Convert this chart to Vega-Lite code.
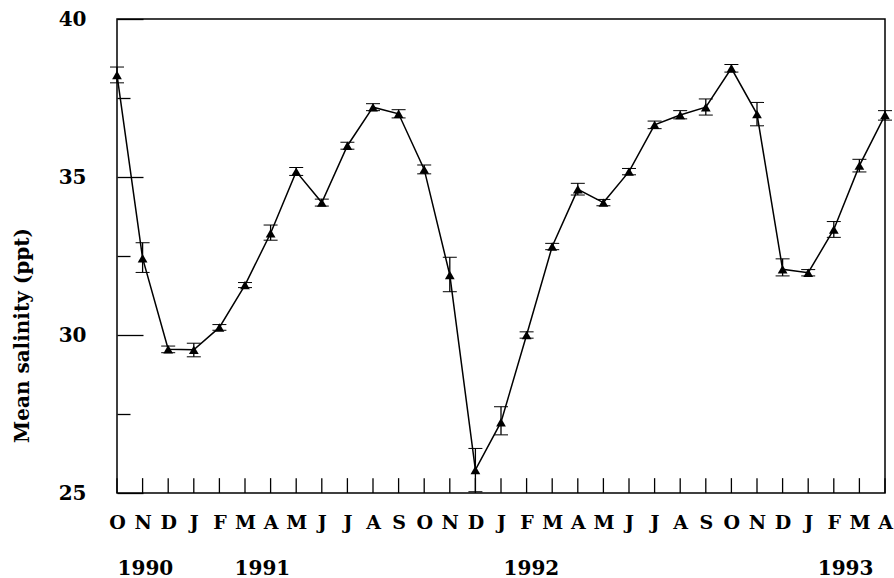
{
  "$schema": "https://vega.github.io/schema/vega-lite/v6.json",
  "width": 768,
  "height": 474,
  "autosize": {"type": "none"},
  "padding": {"left": 117, "top": 19, "right": 9, "bottom": 85},
  "background": "white",
  "config": {
    "view": {"stroke": "black", "strokeWidth": 1.5},
    "axis": {
      "labelFont": "DejaVu Serif",
      "labelFontWeight": "bold",
      "labelColor": "black",
      "titleFont": "DejaVu Serif",
      "titleFontWeight": "bold",
      "titleColor": "black",
      "tickColor": "black",
      "domain": false,
      "grid": false,
      "labelFlush": false,
      "labelOverlap": false
    }
  },
  "datasets": {
    "salinity": [
      {"i": 0, "month": "O", "year": 1990, "salinity": 38.23, "lo": 37.98, "hi": 38.48},
      {"i": 1, "month": "N", "year": 1990, "salinity": 32.43, "lo": 31.98, "hi": 32.92},
      {"i": 2, "month": "D", "year": 1990, "salinity": 29.55, "lo": 29.44, "hi": 29.65},
      {"i": 3, "month": "J", "year": 1991, "salinity": 29.53, "lo": 29.31, "hi": 29.74},
      {"i": 4, "month": "F", "year": 1991, "salinity": 30.24, "lo": 30.15, "hi": 30.33},
      {"i": 5, "month": "M", "year": 1991, "salinity": 31.58, "lo": 31.5, "hi": 31.66},
      {"i": 6, "month": "A", "year": 1991, "salinity": 33.22, "lo": 33.0, "hi": 33.48},
      {"i": 7, "month": "M", "year": 1991, "salinity": 35.17, "lo": 35.05, "hi": 35.3},
      {"i": 8, "month": "J", "year": 1991, "salinity": 34.19, "lo": 34.08, "hi": 34.3},
      {"i": 9, "month": "J", "year": 1991, "salinity": 35.99, "lo": 35.88, "hi": 36.1},
      {"i": 10, "month": "A", "year": 1991, "salinity": 37.21, "lo": 37.1, "hi": 37.32},
      {"i": 11, "month": "S", "year": 1991, "salinity": 37.0, "lo": 36.87, "hi": 37.13},
      {"i": 12, "month": "O", "year": 1991, "salinity": 35.24, "lo": 35.1, "hi": 35.38},
      {"i": 13, "month": "N", "year": 1991, "salinity": 31.9, "lo": 31.37, "hi": 32.46},
      {"i": 14, "month": "D", "year": 1991, "salinity": 25.73, "lo": 25.04, "hi": 26.41},
      {"i": 15, "month": "J", "year": 1992, "salinity": 27.24, "lo": 26.84, "hi": 27.73},
      {"i": 16, "month": "F", "year": 1992, "salinity": 30.0, "lo": 29.9, "hi": 30.1},
      {"i": 17, "month": "M", "year": 1992, "salinity": 32.8, "lo": 32.7, "hi": 32.9},
      {"i": 18, "month": "A", "year": 1992, "salinity": 34.61, "lo": 34.43, "hi": 34.8},
      {"i": 19, "month": "M", "year": 1992, "salinity": 34.19, "lo": 34.09, "hi": 34.29},
      {"i": 20, "month": "J", "year": 1992, "salinity": 35.17, "lo": 35.07, "hi": 35.27},
      {"i": 21, "month": "J", "year": 1992, "salinity": 36.65, "lo": 36.53, "hi": 36.77},
      {"i": 22, "month": "A", "year": 1992, "salinity": 36.96, "lo": 36.84, "hi": 37.1},
      {"i": 23, "month": "S", "year": 1992, "salinity": 37.21, "lo": 36.96, "hi": 37.47},
      {"i": 24, "month": "O", "year": 1992, "salinity": 38.44, "lo": 38.32, "hi": 38.56},
      {"i": 25, "month": "N", "year": 1992, "salinity": 36.99, "lo": 36.62, "hi": 37.36},
      {"i": 26, "month": "D", "year": 1992, "salinity": 32.08, "lo": 31.87, "hi": 32.41},
      {"i": 27, "month": "J", "year": 1993, "salinity": 31.97, "lo": 31.87, "hi": 32.07},
      {"i": 28, "month": "F", "year": 1993, "salinity": 33.34, "lo": 33.09, "hi": 33.59},
      {"i": 29, "month": "M", "year": 1993, "salinity": 35.36, "lo": 35.16, "hi": 35.56},
      {"i": 30, "month": "A", "year": 1993, "salinity": 36.96, "lo": 36.8, "hi": 37.1}
    ],
    "years": [
      {"year": "1990", "pos": 1.09},
      {"year": "1991", "pos": 5.66},
      {"year": "1992", "pos": 16.17},
      {"year": "1993", "pos": 28.44}
    ]
  },
  "layer": [
    {
      "data": {"name": "salinity"},
      "layer": [
        {
          "mark": {"type": "line", "color": "black", "strokeWidth": 1.5},
          "encoding": {
            "x": {
              "field": "i",
              "type": "quantitative",
              "title": null,
              "scale": {"domain": [0, 30], "nice": false, "zero": false},
              "axis": {
                "values": [0, 1, 2, 3, 4, 5, 6, 7, 8, 9, 10, 11, 12, 13, 14, 15, 16, 17, 18, 19, 20, 21, 22, 23, 24, 25, 26, 27, 28, 29, 30],
                "tickCount": 31,
                "ticks": false,
                "labelOverlap": false,
                "labelPadding": 20,
                "labelFontSize": 19,
                "labelBaseline": "top",
                "labelExpr": "substring('ONDJFMAMJJASONDJFMAMJJASONDJFMA', datum.value, datum.value + 1)"
              }
            },
            "y": {
              "field": "salinity",
              "type": "quantitative",
              "title": "Mean salinity (ppt)",
              "scale": {"domain": [25, 40], "nice": false, "zero": false},
              "axis": {
                "values": [25, 27.5, 30, 32.5, 35, 37.5, 40],
                "tickCount": 7,
                "labelOverlap": false,
                "tickSize": {"condition": {"test": "datum.value % 5 === 0", "value": -26}, "value": -13},
                "tickWidth": 1.3,
                "labelPadding": 57,
                "labelFontSize": 20,
                "labelExpr": "datum.value % 5 === 0 ? datum.label : ''",
                "titleFontSize": 20,
                "titleX": -85,
                "titleY": 316
              }
            }
          }
        },
        {
          "mark": {"type": "rule", "color": "black", "strokeWidth": 1.3},
          "encoding": {
            "x": {"field": "i", "type": "quantitative", "title": null},
            "y": {"datum": 25, "type": "quantitative", "title": "Mean salinity (ppt)"},
            "y2": {"datum": 25.47}
          }
        },
        {
          "mark": {
            "type": "errorbar",
            "color": "black",
            "ticks": {"size": 14, "color": "black", "strokeWidth": 2, "opacity": 1},
            "rule": {"color": "black", "strokeWidth": 1.3, "opacity": 1}
          },
          "encoding": {
            "x": {"field": "i", "type": "quantitative", "title": null},
            "y": {"field": "lo", "type": "quantitative", "title": "Mean salinity (ppt)"},
            "y2": {"field": "hi"}
          }
        },
        {
          "mark": {"type": "point", "shape": "triangle-up", "filled": true, "color": "black", "opacity": 1, "size": 95},
          "encoding": {
            "x": {"field": "i", "type": "quantitative", "title": null},
            "y": {"field": "salinity", "type": "quantitative", "title": "Mean salinity (ppt)"}
          }
        }
      ]
    },
    {
      "data": {"name": "years"},
      "mark": {"type": "point", "opacity": 0},
      "encoding": {
        "x": {
          "field": "pos",
          "type": "quantitative",
          "title": null,
          "scale": {"domain": [0, 30], "nice": false, "zero": false},
          "axis": {
            "orient": "bottom",
            "values": [1.09, 5.66, 16.17, 28.44],
            "ticks": false,
            "labelOverlap": false,
            "labelPadding": 65,
            "labelFontSize": 20,
            "labelBaseline": "top",
            "labelExpr": "datum.value < 3 ? '1990' : datum.value < 10 ? '1991' : datum.value < 20 ? '1992' : '1993'"
          }
        }
      }
    }
  ],
  "resolve": {"scale": {"x": "independent"}, "axis": {"x": "independent"}}
}
